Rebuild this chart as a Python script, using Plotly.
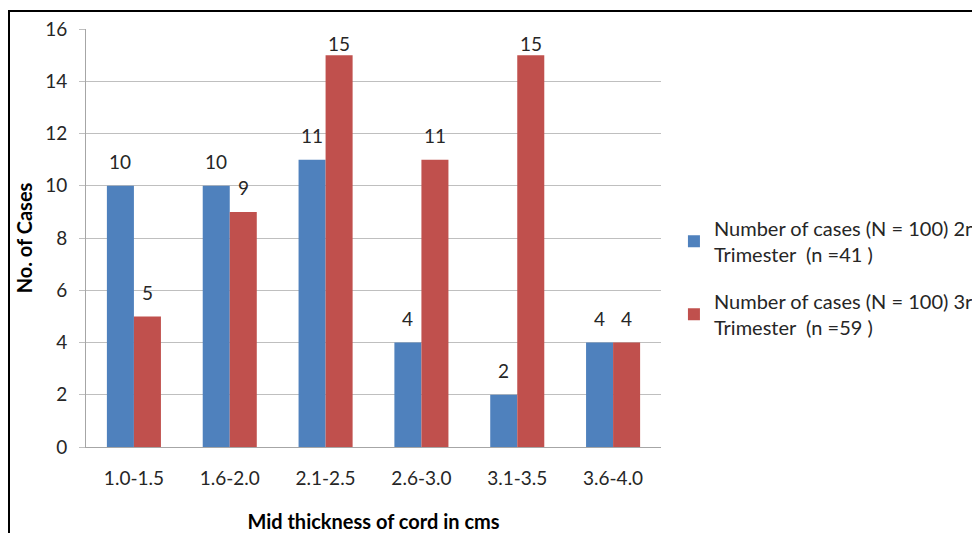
import plotly.graph_objects as go

categories = ["1.0-1.5", "1.6-2.0", "2.1-2.5", "2.6-3.0", "3.1-3.5", "3.6-4.0"]
second_trimester = [10, 10, 11, 4, 2, 4]
third_trimester = [5, 9, 15, 11, 15, 4]
series_names = [
    "Number of cases (N = 100) 2nd<br>Trimester  (n =41 )",
    "Number of cases (N = 100) 3rd<br>Trimester  (n =59 )",
]
y_ticks = [0, 2, 4, 6, 8, 10, 12, 14, 16]

FONT = "Lato"
TXT = "#262626"
COLORS = ["#4f81bd", "#c0504d"]
Y_MAX = 16
PLOT_H = 418
PX_PER_UNIT = PLOT_H / Y_MAX

fig = go.Figure()
for k, (vals, name) in enumerate(zip([second_trimester, third_trimester], series_names)):
    fig.add_trace(go.Bar(
        x=categories, y=vals, name=name,
        marker=dict(color=COLORS[k], line=dict(width=0)),
        legendgroup=f"g{k}",
    ))

# data labels above each bar, kept inside the plot area near the top
annotations = []
for k, vals in enumerate([second_trimester, third_trimester]):
    for cat, v in zip(categories, vals):
        lift = min(24, PX_PER_UNIT * (Y_MAX - v) - 14)
        annotations.append(dict(
            x=cat, y=v, xref="x", yref="y", text=str(v), showarrow=False,
            xshift=-13.5 if k == 0 else 13.5, yshift=lift, yanchor="middle",
            font=dict(family=FONT, size=19, color=TXT),
        ))

fig.update_layout(
    width=972, height=525,
    margin=dict(l=78, r=319, t=21, b=86, autoexpand=False),
    paper_bgcolor="white", plot_bgcolor="white",
    barmode="group", bargap=0.436, bargroupgap=0,
    font=dict(family=FONT, size=19, color=TXT),
    showlegend=True,
    legend=dict(
        x=1.0225, xanchor="left", y=0.405, yanchor="middle",
        font=dict(family=FONT, size=20, color=TXT),
        traceorder="grouped", tracegroupgap=18,
    ),
    xaxis=dict(
        showline=True, linecolor="#a6a6a6", linewidth=1,
        ticks="", ticklabelstandoff=14,
        tickfont=dict(family=FONT, size=19, color=TXT),
        title=dict(text="<b>Mid thickness of cord in cms</b>", standoff=28,
                   font=dict(family=FONT, size=20, color="black")),
    ),
    yaxis=dict(
        range=[0, Y_MAX], tickvals=y_ticks,
        showline=True, linecolor="#a6a6a6", linewidth=1,
        showgrid=True, gridcolor="#bfbfbf", gridwidth=1,
        ticks="outside", ticklen=6, tickcolor="#bfbfbf",
        ticklabelstandoff=8,
        tickfont=dict(family=FONT, size=19, color=TXT),
        zeroline=False,
        title=dict(text="<b>No. of Cases</b>", standoff=7,
                   font=dict(family=FONT, size=20, color="black")),
    ),
    annotations=annotations,
    shapes=[dict(
        type="rect", xref="paper", yref="paper",
        x0=(1 - 78) / 575, x1=1.8, y0=-0.5, y1=(439 - 3) / 418,
        line=dict(color="black", width=2), fillcolor="rgba(0,0,0,0)",
        layer="below",
    )],
)

fig.write_html("out.html")
